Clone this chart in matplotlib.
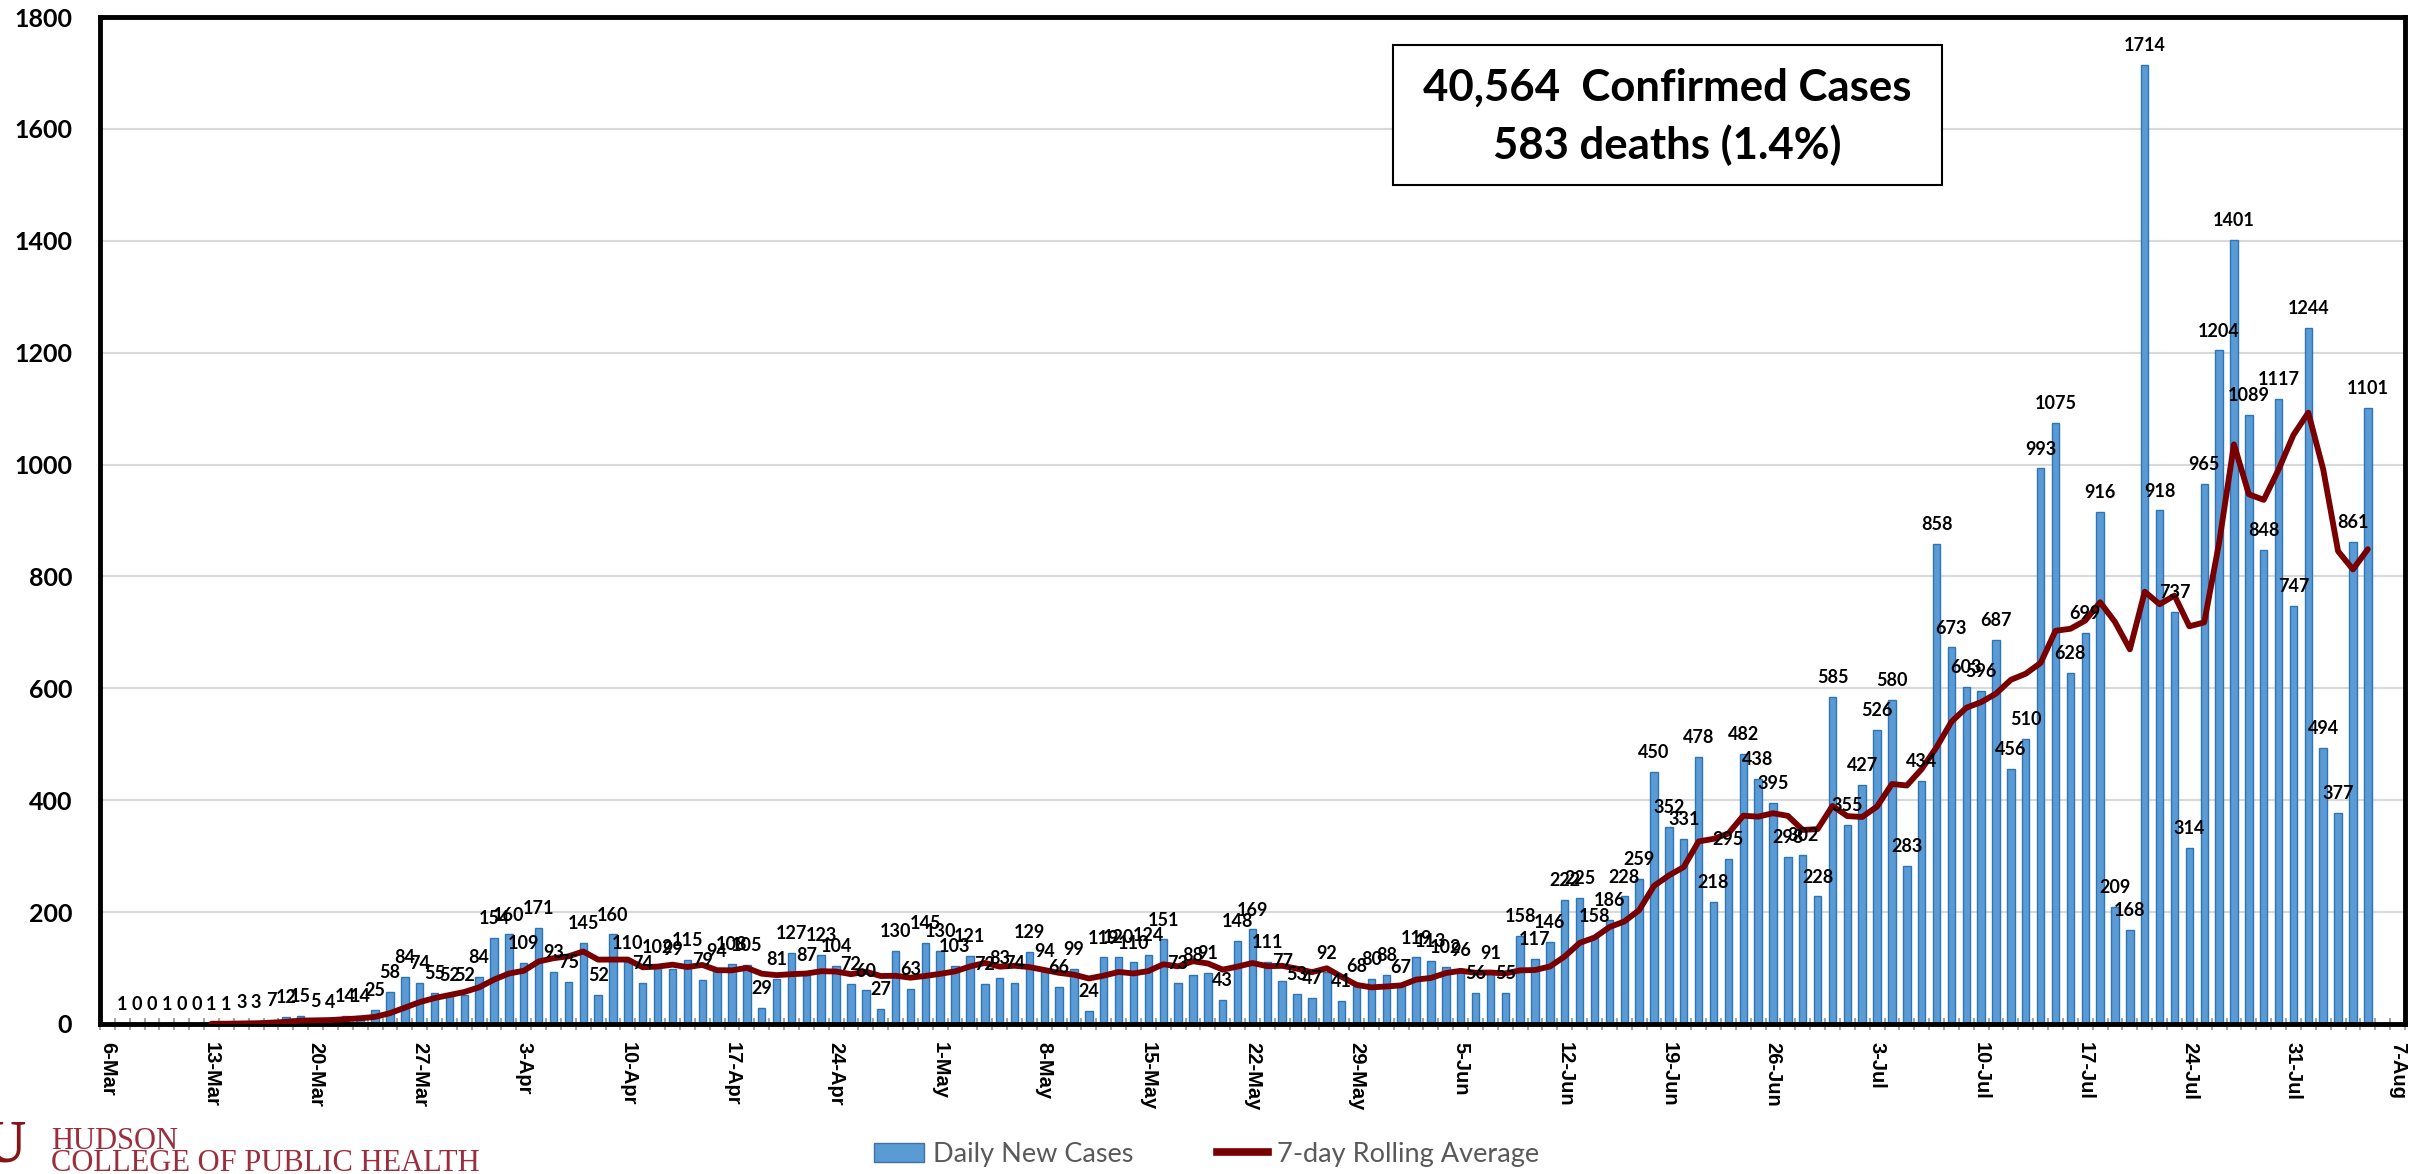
import numpy as np
import pandas as pd
import matplotlib.pyplot as plt
from matplotlib.patches import Patch, Rectangle
from matplotlib.lines import Line2D

# Daily new cases, 7-Mar through 5-Aug
march = [1, 0, 0, 1, 0, 0, 1, 1, 3, 3, 7, 12, 15, 5, 4, 14, 14, 25, 58, 84,
         74, 55, 52, 52, 84]
april = [154, 160, 109, 171, 93, 75, 145, 52, 160, 110, 74, 102, 99, 115, 79,
         94, 108, 105, 29, 81, 127, 87, 123, 104, 72, 60, 27, 130, 63, 145]
may = [130, 103, 121, 72, 83, 74, 129, 94, 66, 99, 24, 119, 120, 110, 124, 151,
       73, 88, 91, 43, 148, 169, 111, 77, 53, 47, 92, 41, 68, 80, 88]
june = [67, 119, 113, 102, 96, 56, 91, 55, 158, 117, 146, 222, 225, 158, 186,
        228, 259, 450, 352, 331, 478, 218, 295, 482, 438, 395, 298, 302, 228, 585]
july = [355, 427, 526, 580, 283, 434, 858, 673, 603, 596, 687, 456, 510, 993,
        1075, 628, 699, 916, 209, 168, 1714, 918, 737, 314, 965, 1204, 1401,
        1089, 848, 1117, 747]
august = [1244, 494, 377, 861, 1101]

# weekly tick labels, 6-Mar through 7-Aug
week_labels = ['6-Mar', '13-Mar', '20-Mar', '27-Mar', '3-Apr', '10-Apr',
               '17-Apr', '24-Apr', '1-May', '8-May', '15-May', '22-May',
               '29-May', '5-Jun', '12-Jun', '19-Jun', '26-Jun', '3-Jul',
               '10-Jul', '17-Jul', '24-Jul', '31-Jul', '7-Aug']

cases = march + april + may + june + july + august
rolling = pd.Series(cases).rolling(7).mean()

# slot 0 is 6-Mar, data begins on 7-Mar
x = np.arange(1, len(cases) + 1)
n_slots = 7 * (len(week_labels) - 1) + 1

fig = plt.figure(figsize=(24.2, 11.74), dpi=100)
ax = fig.add_axes([0.0413, 0.1278, 0.9525, 0.8577])

ax.bar(x, cases, width=0.5, color='#5B9BD5', edgecolor='#2E75B6',
       linewidth=1, zorder=2)
ax.plot(x, rolling, color='#780000', lw=4.2, zorder=3,
        solid_joinstyle='round', solid_capstyle='round')

# value labels on every bar
for xi, v in zip(x, cases):
    ax.annotate(str(v), (xi, v), xytext=(0, 10), textcoords='offset points',
                ha='center', va='baseline', fontsize=13, fontweight='bold',
                family='Lato', zorder=4)

ax.set_xlim(-0.5, n_slots - 0.5)
ax.set_ylim(0, 1800)
ax.set_yticks(range(0, 1801, 200))
ax.yaxis.grid(True, color='#D9D9D9', lw=1.5)
ax.set_axisbelow(True)

ax.set_xticks(range(0, n_slots, 7))
ax.set_xticklabels(week_labels, rotation=270, fontsize=14.5,
                   fontweight='bold', family='Liberation Sans', va='top')
ax.set_xticks(np.arange(-0.5, n_slots, 1), minor=True)
ax.tick_params(axis='x', which='major', length=0, pad=13)
ax.tick_params(axis='x', which='minor', length=8, width=1.5,
               direction='inout', color='#A6A6A6')
ax.tick_params(axis='y', length=0, pad=20)
for lab in ax.get_yticklabels():
    lab.set_fontsize(18)
    lab.set_fontweight('bold')
    lab.set_family('Lato')

for side in ax.spines.values():
    side.set_linewidth(3.5)
    side.set_color('black')

# summary box
fig.add_artist(Rectangle((0.5756, 0.8424), 0.2269, 0.1193,
                         transform=fig.transFigure, facecolor='white',
                         edgecolor='black', lw=1.5))
fig.text(0.6888, 0.925, '40,564  Confirmed Cases', ha='center', va='center',
         fontsize=31.5, fontweight='bold', family='Lato')
fig.text(0.6888, 0.8765, '583 deaths (1.4%)', ha='center', va='center',
         fontsize=31.5, fontweight='bold', family='Lato')

# legend along the bottom
handles = [Patch(facecolor='#5B9BD5', edgecolor='#41719C'),
           Line2D([], [], color='#780000', lw=5.5)]
fig.legend(handles, ['Daily New Cases', '7-day Rolling Average'],
           loc='center', bbox_to_anchor=(0.4985, 0.017), ncol=2,
           frameon=False, prop={'family': 'Lato', 'size': 19.5},
           labelcolor='#595959', handlelength=1.85, handletextpad=0.33,
           columnspacing=3.1)

# college mark, bottom left
fig.text(-0.027, 0.0, 'OU', fontsize=44, fontweight='bold',
         family='Liberation Serif', color='#841617', va='bottom')
fig.text(0.021, 0.0215, 'HUDSON', fontsize=22, family='Liberation Serif',
         color='#9B2D3C', va='baseline')
fig.text(0.021, 0.0025, 'COLLEGE OF PUBLIC HEALTH', fontsize=22,
         family='Liberation Serif', color='#9B2D3C', va='baseline')

fig.savefig('out.png', dpi=100)
